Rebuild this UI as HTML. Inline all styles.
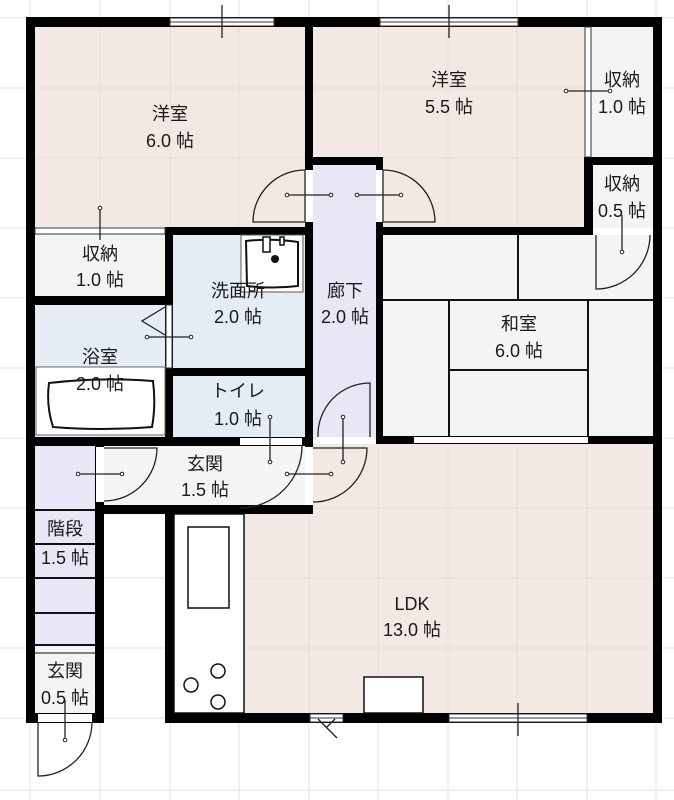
<!DOCTYPE html>
<html><head><meta charset="utf-8"><style>
html,body{margin:0;padding:0;background:#fff;}
svg{display:block;}
text{font-family:"Liberation Sans","Noto Sans CJK JP",sans-serif;font-size:18px;fill:#1a1a1a;text-anchor:middle;}
</style></head><body>
<svg width="674" height="800" viewBox="0 0 674 800" xmlns="http://www.w3.org/2000/svg">
<g stroke="#e6e6e6" stroke-width="1.2">
<line x1="30" y1="0" x2="30" y2="800"/><line x1="100" y1="0" x2="100" y2="800"/><line x1="170" y1="0" x2="170" y2="800"/><line x1="239" y1="0" x2="239" y2="800"/><line x1="309" y1="0" x2="309" y2="800"/><line x1="378" y1="0" x2="378" y2="800"/><line x1="448" y1="0" x2="448" y2="800"/><line x1="517" y1="0" x2="517" y2="800"/><line x1="587" y1="0" x2="587" y2="800"/><line x1="656" y1="0" x2="656" y2="800"/>
<line x1="0" y1="18" x2="674" y2="18"/><line x1="0" y1="88" x2="674" y2="88"/><line x1="0" y1="158" x2="674" y2="158"/><line x1="0" y1="228" x2="674" y2="228"/><line x1="0" y1="298" x2="674" y2="298"/><line x1="0" y1="368" x2="674" y2="368"/><line x1="0" y1="438" x2="674" y2="438"/><line x1="0" y1="508" x2="674" y2="508"/><line x1="0" y1="578" x2="674" y2="578"/><line x1="0" y1="648" x2="674" y2="648"/><line x1="0" y1="718" x2="674" y2="718"/><line x1="0" y1="790" x2="674" y2="790"/>
</g>
<rect x="35" y="27" width="270" height="200" fill="#f2e8e4"/>
<rect x="313" y="27" width="272" height="200" fill="#f2e8e4"/>
<rect x="591" y="27" width="62" height="130" fill="#f4f4f4"/>
<rect x="593" y="165" width="60" height="63" fill="#f4f4f4"/>
<rect x="313" y="165" width="63" height="275" fill="#e9e6f5"/>
<rect x="383" y="235" width="270" height="202" fill="#f4f4f4"/>
<rect x="35" y="234" width="130" height="62" fill="#f4f4f4"/>
<rect x="173" y="235" width="132" height="133" fill="#e5ecf4"/>
<rect x="35" y="305" width="130" height="132" fill="#e5ecf4"/>
<rect x="173" y="376" width="132" height="61" fill="#e5ecf4"/>
<rect x="104" y="446" width="201" height="59" fill="#f4f4f4"/>
<rect x="35" y="446" width="60" height="199" fill="#e9e6f5"/>
<rect x="35" y="645" width="60" height="8" fill="#f4f4f4"/>
<rect x="35" y="653" width="60" height="60" fill="#f4f4f4"/>
<rect x="313" y="444" width="340" height="70" fill="#f2e8e4"/>
<rect x="244" y="514" width="409" height="199" fill="#f2e8e4"/>
<rect x="174" y="514" width="70" height="199" fill="#fff"/>
<g stroke="#e3dad6" stroke-width="1" opacity="0.7">
<line x1="100" y1="27" x2="100" y2="227"/><line x1="170" y1="27" x2="170" y2="227"/><line x1="239" y1="27" x2="239" y2="227"/>
<line x1="35" y1="88" x2="305" y2="88"/><line x1="35" y1="158" x2="305" y2="158"/>
<line x1="378" y1="27" x2="378" y2="157"/><line x1="448" y1="27" x2="448" y2="227"/><line x1="517" y1="27" x2="517" y2="227"/>
<line x1="313" y1="88" x2="585" y2="88"/><line x1="383" y1="158" x2="585" y2="158"/>
<line x1="309" y1="514" x2="309" y2="713"/><line x1="378" y1="446" x2="378" y2="713"/><line x1="448" y1="446" x2="448" y2="713"/><line x1="517" y1="446" x2="517" y2="713"/><line x1="587" y1="446" x2="587" y2="713"/>
<line x1="244" y1="508" x2="653" y2="508"/><line x1="244" y1="578" x2="653" y2="578"/><line x1="244" y1="648" x2="653" y2="648"/>
</g>
<g stroke="#111" stroke-width="2">
<line x1="383" y1="300" x2="653" y2="300"/>
<line x1="518" y1="235" x2="518" y2="300"/>
<line x1="449" y1="300" x2="449" y2="437"/>
<line x1="588" y1="300" x2="588" y2="437"/>
<line x1="449" y1="370" x2="588" y2="370"/>
</g>
<g stroke="#111" stroke-width="2">
<line x1="35" y1="510" x2="95" y2="510"/><line x1="35" y1="544" x2="95" y2="544"/><line x1="35" y1="578" x2="95" y2="578"/><line x1="35" y1="613" x2="95" y2="613"/><line x1="35" y1="645" x2="95" y2="645"/><line x1="35" y1="653" x2="95" y2="653" stroke-width="1"/>
</g>
<g fill="#000">
<rect x="26" y="17" width="636" height="10"/>
<rect x="26" y="17" width="9" height="706"/>
<rect x="653" y="17" width="9" height="706"/>
<rect x="305" y="17" width="8" height="497"/>
<rect x="305" y="157" width="78" height="8"/>
<rect x="376" y="157" width="7" height="287"/>
<rect x="584" y="157" width="78" height="8"/>
<rect x="584" y="157" width="9" height="78"/>
<rect x="165" y="227" width="148" height="8"/>
<rect x="376" y="227" width="217" height="8"/>
<rect x="165" y="227" width="8" height="218"/>
<rect x="26" y="296" width="147" height="9"/>
<rect x="165" y="368" width="148" height="8"/>
<rect x="26" y="437" width="287" height="9"/>
<rect x="376" y="436" width="286" height="8"/>
<rect x="95" y="437" width="9" height="286"/>
<rect x="95" y="505" width="218" height="9"/>
<rect x="165" y="505" width="9" height="218"/>
<rect x="165" y="713" width="497" height="10"/>
<rect x="26" y="713" width="78" height="10"/>
</g>
<g fill="#fff" stroke="#333" stroke-width="1">
<rect x="170" y="18" width="104" height="8"/><line x1="170" y1="22" x2="274" y2="22"/>
<rect x="380" y="18" width="138" height="8"/><line x1="380" y1="22" x2="518" y2="22"/>
<rect x="585" y="27" width="6" height="130"/>
<rect x="35" y="228" width="130" height="6"/>
<rect x="305" y="170" width="8" height="52" stroke="none"/>
<rect x="376" y="170" width="7" height="52" stroke="none"/>
<rect x="166" y="305" width="6" height="63"/>
<rect x="240" y="438" width="62" height="7" stroke="none"/>
<rect x="316" y="437" width="58" height="7" stroke="none"/>
<rect x="305" y="447" width="8" height="58" stroke="none"/>
<rect x="96" y="447" width="8" height="55" stroke="none"/>
<rect x="594" y="228" width="56" height="7" stroke="none"/>
<rect x="38" y="714" width="54" height="8" stroke="none"/>
<rect x="310" y="714" width="33" height="8"/><line x1="310" y1="718" x2="343" y2="718"/>
<rect x="449" y="714" width="138" height="8"/><line x1="449" y1="718" x2="587" y2="718"/>
<rect x="414" y="437" width="174" height="6" stroke="none"/>
</g>
<rect x="241" y="235" width="62" height="57" fill="#fff" stroke="#555" stroke-width="1"/>
<path d="M246 241 Q272 238 298 242 L298 286 Q272 289 247 286 Z" fill="#fff" stroke="#111" stroke-width="2"/>
<rect x="263" y="237" width="7" height="15" fill="#fff" stroke="#111" stroke-width="1.5"/>
<rect x="280" y="237" width="4" height="8" fill="#fff" stroke="#111" stroke-width="1.5"/>
<circle cx="275" cy="259" r="4" fill="#111"/>
<rect x="36" y="367" width="129" height="68" fill="#fff" stroke="#666" stroke-width="1"/>
<path d="M49 383 Q100 377 153 381 Q156 405 152 427 Q100 431 53 427 Q46 405 49 383 Z" fill="none" stroke="#111" stroke-width="2"/>
<rect x="174" y="514" width="70" height="199" fill="#fff" stroke="#111" stroke-width="1.5"/>
<rect x="188" y="527" width="41" height="81" fill="#fff" stroke="#111" stroke-width="1.5"/>
<g fill="none" stroke="#111" stroke-width="1.5"><circle cx="191" cy="685" r="7"/><circle cx="218" cy="671" r="7"/><circle cx="218" cy="702" r="7"/></g>
<rect x="364" y="677" width="59" height="36" fill="#fff" stroke="#111" stroke-width="1.5"/>
<g fill="none" stroke="#222" stroke-width="1.3">
<path d="M305 170 L305 222 L253 222 A52 52 0 0 1 305 170"/>
<path d="M383 170 L383 222 L435 222 A52 52 0 0 0 383 170"/>
<path d="M165 307 L142 321 L165 335"/>
<path d="M302 446 A62 62 0 0 1 240 508"/>
<path d="M370 437 L370 383 A52 52 0 0 0 318 437"/>
<path d="M313 448 L367 448 A54 54 0 0 1 313 502"/>
<path d="M104 448 L157 448 A53 53 0 0 1 104 501"/>
<path d="M650 235 A54 54 0 0 1 596 289 L596 235"/>
<path d="M92 722 A54 54 0 0 1 38 776 L38 722"/>
<line x1="222" y1="5" x2="222" y2="38"/><line x1="449" y1="5" x2="449" y2="38"/><line x1="518" y1="703" x2="518" y2="736"/>
<line x1="318" y1="719" x2="337" y2="738"/><line x1="335" y1="719" x2="327" y2="727"/>
<line x1="100" y1="210" x2="100" y2="240"/>
<line x1="289" y1="195" x2="331" y2="195"/><line x1="357" y1="195" x2="400" y2="195"/>
<line x1="568" y1="91" x2="610" y2="91"/>
<line x1="148" y1="337" x2="190" y2="337"/>
<line x1="270" y1="418" x2="270" y2="462"/>
<line x1="343" y1="418" x2="343" y2="462"/>
<line x1="78" y1="474" x2="122" y2="474"/>
<line x1="287" y1="474" x2="331" y2="474"/>
<line x1="622" y1="215" x2="622" y2="252"/>
<line x1="65" y1="700" x2="65" y2="740"/>
</g>
<g fill="#fff" stroke="#222" stroke-width="1">
<circle cx="100" cy="208" r="1.8"/><circle cx="287" cy="195" r="1.8"/><circle cx="331" cy="195" r="1.8"/><circle cx="357" cy="195" r="1.8"/><circle cx="401" cy="195" r="1.8"/>
<circle cx="566" cy="91" r="1.8"/><circle cx="610" cy="91" r="1.8"/><circle cx="147" cy="337" r="1.8"/><circle cx="191" cy="337" r="1.8"/>
<circle cx="270" cy="417" r="1.8"/><circle cx="270" cy="462" r="1.8"/><circle cx="343" cy="417" r="1.8"/><circle cx="343" cy="462" r="1.8"/>
<circle cx="78" cy="474" r="1.8"/><circle cx="122" cy="474" r="1.8"/><circle cx="287" cy="474" r="1.8"/><circle cx="331" cy="474" r="1.8"/>
<circle cx="622" cy="252" r="1.8"/><circle cx="65" cy="740" r="1.8"/>
</g>
<text x="170" y="120">洋室</text><text x="170" y="147">6.0 帖</text>
<text x="449" y="86">洋室</text><text x="449" y="113">5.5 帖</text>
<text x="622" y="86">収納</text><text x="622" y="113">1.0 帖</text>
<text x="622" y="190">収納</text><text x="622" y="217">0.5 帖</text>
<text x="100" y="260">収納</text><text x="100" y="286">1.0 帖</text>
<text x="238" y="297">洗面所</text><text x="238" y="323">2.0 帖</text>
<text x="345" y="297">廊下</text><text x="345" y="323">2.0 帖</text>
<text x="519" y="330">和室</text><text x="519" y="357">6.0 帖</text>
<text x="100" y="363">浴室</text><text x="100" y="390">2.0 帖</text>
<text x="238" y="397">トイレ</text><text x="238" y="425">1.0 帖</text>
<text x="205" y="470">玄関</text><text x="205" y="496">1.5 帖</text>
<text x="65" y="535">階段</text><text x="65" y="564">1.5 帖</text>
<text x="412" y="610">LDK</text><text x="412" y="636">13.0 帖</text>
<text x="65" y="677">玄関</text><text x="65" y="704">0.5 帖</text>
</svg>
</body></html>
